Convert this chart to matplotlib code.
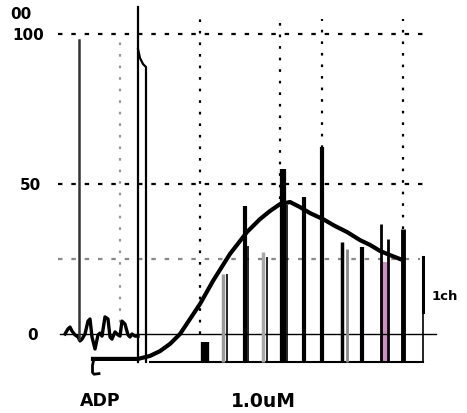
import numpy as np
import matplotlib
matplotlib.use("Agg")
import matplotlib.pyplot as plt

# aggregation trace (x in chart units, y in % aggregation)
agg_x = [93, 120, 138, 150, 160, 170, 180, 190, 200, 213, 230,
         247, 260, 270, 280, 290, 300, 310, 323, 335, 347, 360, 370, 380, 390, 400]
agg_y = [-8.3, -8.3, -8.3, -7.3, -5.7, -3.3, 0.0,
         5.0, 10.0, 17.7, 26.7, 34.0, 38.3, 41.0, 43.3, 44.0, 42.3, 40.3, 38.3, 36.0, 34.0,
         31.3, 29.7, 27.7, 26.3, 25.0]
# pen hook at the start of the trace
hook_x = [96, 93.5, 92.5, 92.5, 94, 99]
hook_y = [-8.3, -8.8, -10.5, -12.8, -13.4, -13.2]

# single channel noise before ADP
noise_x = [65, 68, 70, 72, 75, 78, 80, 82, 85, 88, 90, 92, 95, 98, 100, 102, 105, 108,
           110, 112, 115, 118, 120, 122, 125, 128, 130, 132, 135, 138]
noise_y = [0, 1.7, 2.3, 1, -0.3, -1, -2.3, -1.7, 0, 4.3, 5, -1, -5, -0.3, 0.3, -0.7, 5.7,
           5, -1, -1.7, 0.7, -0.3, -0.7, 4.3, 3.3, -0.3, -1, 0, -0.7, -0.7]

# channel openings after ADP
ch_x = [205, 223, 227, 245, 248, 263, 267, 283, 287, 304, 322, 342, 347, 362, 381, 388, 403]
ch_top = [-2.7, 20, 20, 42.7, 29.3, 27.3, 25.7, 55, 43, 45.7, 62.3, 30.7, 28.3, 29, 36.7, 31.7, 35]
ch_width = [6, 2.5, 1.2, 3, 1.2, 2.5, 1.2, 4.5, 1.2, 3, 3, 2.5, 2, 3, 2, 2, 3.5]
ch_color = ["black", "#9a9a9a", "black", "black", "black", "#a8a8a8", "black", "black",
            "black", "black", "black", "black", "#8a8a8a", "black", "black", "black", "black"]
closed = -9.3

fig = plt.figure(figsize=(4.67, 4.14), dpi=100)
ax = fig.add_axes([0, 0, 1, 1])
ax.set_xlim(0, 467)
ax.set_ylim(-26.33, 111.67)
ax.axis("off")

# grid
for v, x0, x1, c in [(100, 58, 425, "black"), (50, 58, 430, "black"), (25, 58, 420, "#888888")]:
    ax.plot([x0, x1], [v, v], color=c, lw=1.6, linestyle=(0, (2, 4)))
for gx, top, bot, c in [(120, 100, 0, "#999999"), (200, 105, 0, "black"), (280, 105, 45, "black"),
                        (322, 105, 62, "black"), (403, 105, 35, "black")]:
    ax.plot([gx, gx], [bot, top], color=c, lw=1.6, linestyle=(0, (1.2, 4)))

# zero line and closed level
ax.plot([60, 436], [0, 0], color="black", lw=1.0)
ax.plot([150, 423], [closed, closed], color="black", lw=1.5)

# pre-ADP trace
ax.plot(noise_x, noise_y, color="black", lw=2.4, solid_joinstyle="round")
ax.plot([79, 79], [-1.5, 98], color="#333333", lw=1.8)
ax.plot([138, 138], [closed, 109], color="black", lw=1.6)
ax.plot([138, 140, 143, 146, 146], [95, 92, 90, 89, closed], color="black", lw=1.6)

# channel openings
ax.fill_between([382, 387], [closed, closed], [24, 24], color="#cf8fc2", lw=0)
for x, t, w, c in zip(ch_x, ch_top, ch_width, ch_color):
    ax.plot([x, x], [closed, t], color=c, lw=w, solid_capstyle="butt")
ax.plot([423, 423], [closed, 7.3], color="black", lw=1.2)
ax.plot([423, 423], [7.3, 25.7], color="black", lw=2.2)

# aggregation curve
ax.plot(hook_x, hook_y, color="black", lw=2.0)
ax.plot(agg_x, agg_y, color="black", lw=3.0, solid_joinstyle="round")

# labels
tf = dict(fontsize=11, fontweight="bold", family="DejaVu Sans", va="center")
ax.text(10, 107, "00", ha="left", **tf)
ax.text(44, 100, "100", ha="right", **tf)
ax.text(41, 50, "50", ha="right", **tf)
ax.text(38, 0, "0", ha="right", **tf)
ax.text(80, -22, "ADP", ha="left", fontsize=12.5, fontweight="bold", family="DejaVu Sans", va="center")
ax.text(231, -22, "1.0uM", ha="left", fontsize=13.5, fontweight="bold", family="DejaVu Sans", va="center")
ax.text(432, 12.7, "1ch", ha="left", fontsize=9.5, fontweight="bold", family="DejaVu Sans", va="center")

fig.savefig("out.png", dpi=100)
